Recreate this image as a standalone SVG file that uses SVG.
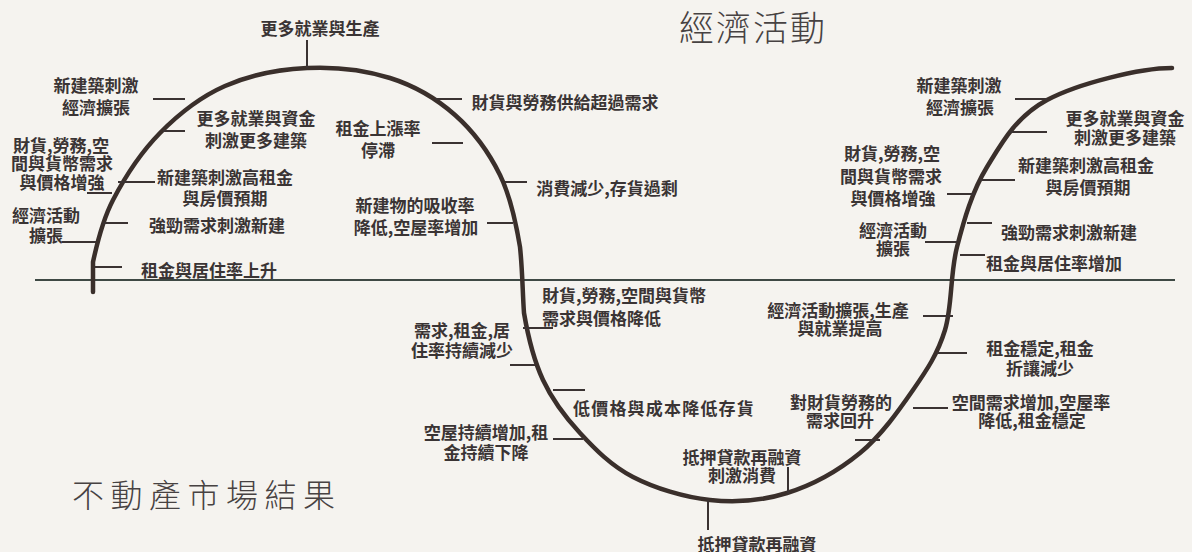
<svg xmlns="http://www.w3.org/2000/svg" width="1192" height="552" viewBox="0 0 1192 552">
<style>
.lbl{font-family:"Noto Sans CJK TC","Noto Sans CJK SC",sans-serif;font-size:17px;font-weight:700;fill:#3a3434;text-anchor:middle}
.st{text-anchor:start}
.title{font-family:"Noto Sans CJK TC","Noto Sans CJK SC",sans-serif;font-weight:300;fill:#474242}
.tick{stroke:#3a3232;stroke-width:2;fill:none}
.curve{fill:none;stroke:#3a2f2b;stroke-width:4.5;stroke-linecap:round;stroke-linejoin:round}
.axis{stroke:#3e4844;stroke-width:2.2}
</style>
<rect width="1192" height="552" fill="#f5f3ef"/>
<g id="frame">
<line class="axis" x1="35" y1="280" x2="1175" y2="280"/>
<path class="curve" d="M93,292 L93,262 C96.3,246.7 101.8,221.5 113,200 C124.2,178.5 141.3,152 160,133 C178.7,114 200.5,96.8 225,86 C249.5,75.2 279.5,69.3 307,68 C334.5,66.7 365.3,70.2 390,78 C414.7,85.8 436.7,98.8 455,115 C473.3,131.2 489.2,153 500,175 C510.8,197 516.2,224 520,247 C522.5,270 522.5,292 524,313 C527.8,335.2 533.7,360 543,380 C552.3,400 565,416.8 580,433 C595,449.2 611.3,465.8 633,477 C654.7,488.2 684.3,497.3 710,500 C735.7,502.7 762,500.8 787,493 C812,485.2 839,470.2 860,453 C881,435.8 898.8,410.5 913,390 C927.2,369.5 937.7,353.8 945,330 C952.3,306.2 950,274.2 957,247 C964,219.8 972,191.5 987,167 C1002,142.5 1016.2,116.5 1047,100 C1077.8,83.5 1140,68 1172,68"/>
</g>
<g id="connectors">
<line class="tick" x1="307" y1="40" x2="307" y2="68"/>
<line class="tick" x1="153" y1="99" x2="185" y2="99"/>
<line class="tick" x1="163" y1="131" x2="185" y2="131"/>
<line class="tick" x1="87" y1="193" x2="112" y2="193"/>
<line class="tick" x1="118" y1="182" x2="155" y2="182"/>
<line class="tick" x1="62" y1="242" x2="96" y2="242"/>
<line class="tick" x1="103" y1="223" x2="128" y2="223"/>
<line class="tick" x1="95" y1="267" x2="122" y2="267"/>
<line class="tick" x1="435" y1="99" x2="462" y2="99"/>
<line class="tick" x1="432" y1="143" x2="463" y2="143"/>
<line class="tick" x1="505" y1="182" x2="527" y2="182"/>
<line class="tick" x1="487" y1="223" x2="513" y2="223"/>
<line class="tick" x1="523" y1="328" x2="553" y2="328"/>
<line class="tick" x1="510" y1="365" x2="535" y2="365"/>
<line class="tick" x1="553" y1="390" x2="585" y2="390"/>
<line class="tick" x1="553" y1="439" x2="583" y2="439"/>
<line class="tick" x1="788" y1="467" x2="788" y2="494"/>
<line class="tick" x1="708" y1="500" x2="708" y2="530"/>
<line class="tick" x1="923" y1="316" x2="953" y2="316"/>
<line class="tick" x1="937" y1="353" x2="967" y2="353"/>
<line class="tick" x1="855" y1="440" x2="880" y2="440"/>
<line class="tick" x1="913" y1="408" x2="948" y2="408"/>
<line class="tick" x1="1015" y1="99" x2="1047" y2="99"/>
<line class="tick" x1="1010" y1="132" x2="1047" y2="132"/>
<line class="tick" x1="947" y1="194" x2="975" y2="194"/>
<line class="tick" x1="980" y1="180" x2="1015" y2="180"/>
<line class="tick" x1="925" y1="242" x2="957" y2="242"/>
<line class="tick" x1="967" y1="223" x2="992" y2="223"/>
<line class="tick" x1="960" y1="255" x2="985" y2="255"/>
</g>
<g id="title-economy"><text class="title" x="679" y="41" font-size="35" letter-spacing="2">經濟活動</text></g>
<g id="title-market"><text class="title" x="72" y="507" font-size="32" letter-spacing="6.5">不動產市場結果</text></g>
<g id="n-l1"><text class="lbl" x="320" y="34.5">更多就業與生產</text></g>
<g id="n-l2"><text class="lbl"><tspan x="96" y="91.5">新建築刺激</tspan><tspan x="96" y="113.5">經濟擴張</tspan></text></g>
<g id="n-l3"><text class="lbl"><tspan x="256" y="124.5">更多就業與資金</tspan><tspan x="256" y="146.5">刺激更多建築</tspan></text></g>
<g id="n-l4"><text class="lbl"><tspan x="61" y="151.5">財貨,勞務,空</tspan><tspan x="62" y="169.5">間與貨幣需求</tspan><tspan x="62" y="188.5">與價格增強</tspan></text></g>
<g id="n-l5"><text class="lbl"><tspan x="225" y="183.5">新建築刺激高租金</tspan><tspan x="225" y="204.5">與房價預期</tspan></text></g>
<g id="n-l6"><text class="lbl"><tspan x="46" y="221.5">經濟活動</tspan><tspan x="46" y="241.5">擴張</tspan></text></g>
<g id="n-l7"><text class="lbl" x="217" y="231.5">強勁需求刺激新建</text></g>
<g id="n-l8"><text class="lbl" x="209" y="276.5">租金與居住率上升</text></g>
<g id="n-l9"><text class="lbl" x="565" y="108.5">財貨與勞務供給超過需求</text></g>
<g id="n-l10"><text class="lbl"><tspan x="378" y="134.5">租金上漲率</tspan><tspan x="378" y="156.5">停滯</tspan></text></g>
<g id="n-l11"><text class="lbl" x="607" y="194.5">消費減少,存貨過剩</text></g>
<g id="n-l12"><text class="lbl"><tspan x="415" y="211.5">新建物的吸收率</tspan><tspan x="416" y="233.5">降低,空屋率增加</tspan></text></g>
<g id="n-l13"><text class="lbl st"><tspan x="542" y="301.5">財貨,勞務,空間與貨幣</tspan><tspan x="542" y="324.5">需求與價格降低</tspan></text></g>
<g id="n-l14"><text class="lbl"><tspan x="462" y="336.5">需求,租金,居</tspan><tspan x="462" y="356.5">住率持續減少</tspan></text></g>
<g id="n-l15"><text class="lbl" x="664" y="414.5" letter-spacing="1.2">低價格與成本降低存貨</text></g>
<g id="n-l16"><text class="lbl"><tspan x="486" y="438.5">空屋持續增加,租</tspan><tspan x="486" y="458.5">金持續下降</tspan></text></g>
<g id="n-l17"><text class="lbl"><tspan x="742" y="463.5">抵押貸款再融資</tspan><tspan x="742" y="481.5">刺激消費</tspan></text></g>
<g id="n-l18"><text class="lbl" x="757" y="551">抵押貸款再融資</text></g>
<g id="n-l19"><text class="lbl"><tspan x="838" y="316.5">經濟活動擴張,生產</tspan><tspan x="840" y="334.5">與就業提高</tspan></text></g>
<g id="n-l20"><text class="lbl"><tspan x="1040" y="354.5">租金穩定,租金</tspan><tspan x="1040" y="374.5">折讓減少</tspan></text></g>
<g id="n-l21"><text class="lbl"><tspan x="841" y="408.5">對財貨勞務的</tspan><tspan x="840" y="426.5">需求回升</tspan></text></g>
<g id="n-l22"><text class="lbl"><tspan x="1031" y="408.5">空間需求增加,空屋率</tspan><tspan x="1032" y="426.5">降低,租金穩定</tspan></text></g>
<g id="n-r1"><text class="lbl"><tspan x="959" y="91.5">新建築刺激</tspan><tspan x="960" y="113.5">經濟擴張</tspan></text></g>
<g id="n-r2"><text class="lbl"><tspan x="1125" y="124.5">更多就業與資金</tspan><tspan x="1125" y="143.5">刺激更多建築</tspan></text></g>
<g id="n-r3"><text class="lbl"><tspan x="892" y="159.5">財貨,勞務,空</tspan><tspan x="891" y="182.5">間與貨幣需求</tspan><tspan x="893" y="204.5">與價格增強</tspan></text></g>
<g id="n-r4"><text class="lbl"><tspan x="1086" y="171.5">新建築刺激高租金</tspan><tspan x="1088" y="193.5">與房價預期</tspan></text></g>
<g id="n-r5"><text class="lbl"><tspan x="893" y="236.5">經濟活動</tspan><tspan x="893" y="254.5">擴張</tspan></text></g>
<g id="n-r6"><text class="lbl" x="1069" y="238.5">強勁需求刺激新建</text></g>
<g id="n-r7"><text class="lbl" x="1054" y="269.5">租金與居住率增加</text></g>
</svg>
